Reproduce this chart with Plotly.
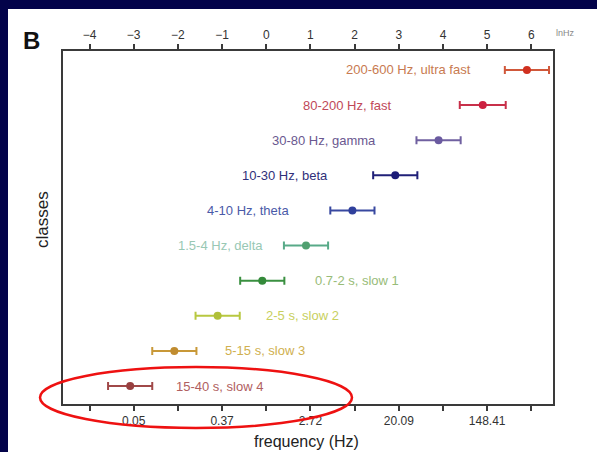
import plotly.graph_objects as go

# ---- data (ln Hz) ----
classes = ["200-600 Hz, ultra fast", "80-200 Hz, fast", "30-80 Hz, gamma", "10-30 Hz, beta",
           "4-10 Hz, theta", "1.5-4 Hz, delta", "0.7-2 s, slow 1", "2-5 s, slow 2",
           "5-15 s, slow 3", "15-40 s, slow 4"]
centers = [5.9, 4.9, 3.9, 2.92, 1.95, 0.9, -0.09, -1.1, -2.08, -3.08]
half_widths = [0.5, 0.52, 0.5, 0.5, 0.5, 0.5, 0.5, 0.5, 0.5, 0.5]
rows = [10, 9, 8, 7, 6, 5, 4, 3, 2, 1]
top_ticks = [-4, -3, -2, -1, 0, 1, 2, 3, 4, 5, 6]
bottom_tick_vals = [-4, -3, -2, -1, 0, 1, 2, 3, 4, 5, 6]
bottom_tick_text = ["", "0.05", "", "0.37", "", "2.72", "", "20.09", "", "148.41", ""]

# ---- styling ----
bar_colors = ["#d0583a", "#c8304a", "#7060a0", "#202078", "#3848a0",
              "#58aa88", "#3a9040", "#b8c840", "#c89838", "#a04848"]
marker_colors = ["#d03020", "#cc2040", "#6a5aa0", "#1c1c78", "#30409c",
                 "#50a070", "#348a3a", "#b0c038", "#c08c30", "#984040"]
text_colors = ["#c87a50", "#c04858", "#6a5890", "#30307a", "#4a5aa8",
               "#98c8b4", "#98bc78", "#c8d060", "#d0b050", "#b06060"]
label_x = [4.68, 2.9, 2.53, 1.45, 0.57, -0.02, 1.06, -0.05, -0.97, -2.08]
label_side = ["left"] * 6 + ["right"] * 4

navy = "#03034a"
axcol = "#3a3a3a"
font = "Liberation Sans, Arial, sans-serif"

fig = go.Figure()
for i, name in enumerate(classes):
    fig.add_trace(go.Scatter(
        x=[centers[i]], y=[rows[i]], mode="markers",
        marker=dict(color=marker_colors[i], size=8),
        error_x=dict(type="data", array=[half_widths[i]], color=bar_colors[i],
                     thickness=2, width=4),
        showlegend=False, cliponaxis=True, xaxis="x", yaxis="y"))

# invisible trace for top axis
fig.add_trace(go.Scatter(x=[top_ticks[0], top_ticks[-1]], y=[rows[-1], rows[0]],
                         mode="markers", marker=dict(opacity=0), xaxis="x2", yaxis="y",
                         showlegend=False, hoverinfo="skip"))

annotations = []
for i, name in enumerate(classes):
    annotations.append(dict(
        x=label_x[i], y=rows[i], xref="x", yref="y", text=name, showarrow=False,
        xanchor="right" if label_side[i] == "left" else "left", yanchor="middle",
        font=dict(family=font, size=13, color=text_colors[i])))

L, R, T, B = 63, 44, 51, 48
W, H = 597, 452
pw, ph = W - L - R, H - T - B
def px(xp):
    return (xp - L) / pw
def py(yp):
    return (H - B - yp) / ph

annotations += [
    dict(x=px(31), y=py(41), xref="paper", yref="paper", text="<b>B</b>", showarrow=False,
         xanchor="center", yanchor="middle", font=dict(family=font, size=24, color="#111")),
    dict(x=px(42), y=py(220), xref="paper", yref="paper", text="classes", showarrow=False,
         textangle=-90, xanchor="center", yanchor="middle",
         font=dict(family=font, size=17, color="#222")),
    dict(x=px(306), y=py(441), xref="paper", yref="paper", text="frequency (Hz)", showarrow=False,
         xanchor="center", yanchor="middle", font=dict(family=font, size=16, color="#222")),
    dict(x=px(554), y=py(33), xref="paper", yref="paper", text="lnHz", showarrow=False,
         xanchor="left", yanchor="middle", font=dict(family=font, size=9, color="#888")),
]

shapes = [
    dict(type="rect", xref="paper", yref="paper", x0=px(-5), x1=px(605), y0=py(-5), y1=py(9),
         fillcolor=navy, line=dict(width=0), layer="below"),
    dict(type="rect", xref="paper", yref="paper", x0=px(-5), x1=px(8), y0=py(460), y1=py(-5),
         fillcolor=navy, line=dict(width=0), layer="below"),
    dict(type="circle", xref="paper", yref="paper", x0=px(40), x1=px(352), y0=py(428), y1=py(367),
         line=dict(color="#ee1111", width=2.5), layer="above"),
]

fig.update_layout(
    width=W, height=H, margin=dict(l=L, r=R, t=T, b=B),
    paper_bgcolor="white", plot_bgcolor="white",
    showlegend=False,
    xaxis=dict(range=[-4.6, 6.49], tickvals=bottom_tick_vals, ticktext=bottom_tick_text,
               ticks="outside", ticklen=5, tickwidth=1.5, tickcolor=axcol,
               showline=True, linecolor=axcol, linewidth=2, showgrid=False, zeroline=False,
               tickfont=dict(family=font, size=12, color="#333")),
    xaxis2=dict(range=[-4.6, 6.49], overlaying="x", side="top", tickvals=top_ticks,
                ticks="outside", ticklen=5, tickwidth=1.5, tickcolor=axcol,
                showline=True, linecolor=axcol, linewidth=2, showgrid=False, zeroline=False,
                tickfont=dict(family=font, size=12, color="#333")),
    yaxis=dict(range=[0.49, 10.54], showticklabels=False, ticks="", showgrid=False,
               zeroline=False, showline=True, mirror=True, linecolor=axcol, linewidth=2),
    annotations=annotations, shapes=shapes,
)

fig.write_html("out.html")
